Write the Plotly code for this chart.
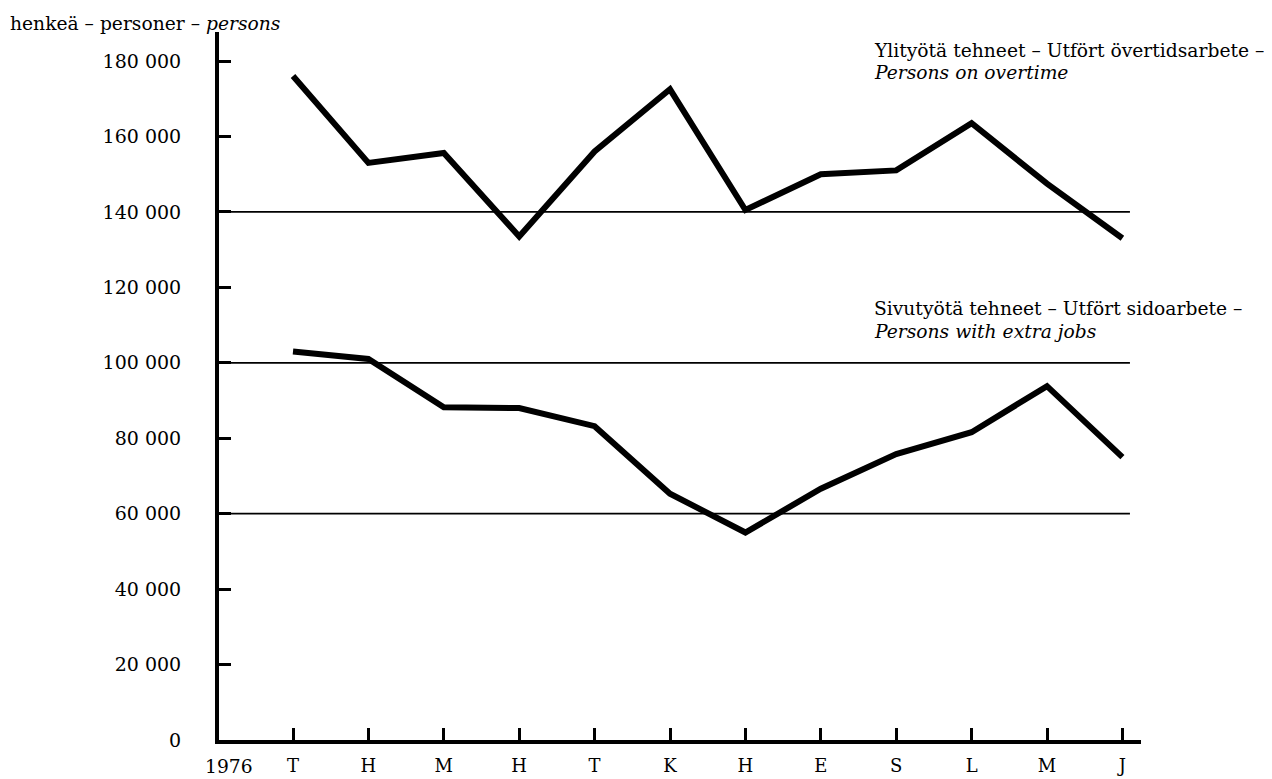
import plotly.graph_objects as go

months = ["T", "H", "M", "H", "T", "K", "H", "E", "S", "L", "M", "J"]
year_label = "1976"
overtime = [176000, 153000, 155600, 133500, 156000, 172500, 140500, 150000, 151000, 163500, 147500, 133000]
extra_jobs = [103000, 101000, 88200, 88000, 83200, 65300, 55000, 66600, 75800, 81600, 93800, 75000]
y_ticks = [0, 20000, 40000, 60000, 80000, 100000, 120000, 140000, 160000, 180000]
y_ticktext = ["0", "20 000", "40 000", "60 000", "80 000", "100 000", "120 000", "140 000", "160 000", "180 000"]
ref_lines = [60000, 100000, 140000]

FONT = "DejaVu Serif"
OFF = 8  # page body margin
W, H = 1272 - OFF, 779 - OFF
# screen-pixel geometry of the plot area (reference)
SL, SR, ST, SB = 219, 1141, 32, 740
L_PX, R_PX, T_PX, B_PX = SL - OFF, SR - OFF, ST - OFF, SB - OFF
X_SPACING = 75.4
X0_SCREEN = 293
x_lo = (SL - X0_SCREEN) / X_SPACING
x_hi = (SR - X0_SCREEN) / X_SPACING
Y_PER_20K = (740 - 61) / 9.0
y_hi = (SB - ST) / Y_PER_20K * 20000

def px(xp):
    return (xp - OFF - L_PX) / (R_PX - L_PX)

def py(yp):
    return (B_PX - (yp - OFF)) / (B_PX - T_PX)

xs = list(range(len(months)))
fig = go.Figure()
fig.add_trace(go.Scatter(x=xs, y=overtime, mode="lines",
                         line=dict(color="black", width=6), showlegend=False))
fig.add_trace(go.Scatter(x=xs, y=extra_jobs, mode="lines",
                         line=dict(color="black", width=6), showlegend=False))

for v in ref_lines:
    fig.add_shape(type="line", xref="x", yref="y", x0=x_lo, x1=11.1, y0=v, y1=v,
                  line=dict(color="black", width=1.8))

fig.update_xaxes(range=[x_lo, x_hi], tickvals=xs, ticktext=months,
                 showline=True, linecolor="black", linewidth=4,
                 ticks="inside", ticklen=12, tickwidth=3, tickcolor="black",
                 showgrid=False, zeroline=False, ticklabelstandoff=6, automargin=False,
                 tickfont=dict(family=FONT, size=18, color="black"))
fig.update_yaxes(range=[0, y_hi], tickvals=y_ticks, ticktext=y_ticktext,
                 showline=True, linecolor="black", linewidth=4,
                 ticks="inside", ticklen=12, tickwidth=3, tickcolor="black",
                 showgrid=False, zeroline=False, ticklabelstandoff=30, automargin=False,
                 tickfont=dict(family=FONT, size=19, color="black"))

ann = [
    dict(text="henkeä – personer – <i>persons</i>", x=px(8), y=py(23)),
    dict(text="Ylityötä tehneet – Utfört övertidsarbete –", x=px(872), y=py(50)),
    dict(text="<i>Persons on overtime</i>", x=px(872), y=py(72)),
    dict(text="Sivutyötä tehneet – Utfört sidoarbete –", x=px(872), y=py(308)),
    dict(text="<i>Persons with extra jobs</i>", x=px(872), y=py(331)),
    dict(text=year_label, x=px(203), y=py(767)),
]
for a in ann:
    fig.add_annotation(text=a["text"], x=a["x"], y=a["y"], xref="paper", yref="paper",
                       xanchor="left", yanchor="middle", showarrow=False,
                       font=dict(family=FONT, size=18.7, color="black"))

fig.update_layout(width=W, height=H, plot_bgcolor="white", paper_bgcolor="white",
                  margin=dict(l=L_PX, r=W - R_PX, t=T_PX, b=H - B_PX, autoexpand=False),
                  showlegend=False)
fig.write_html("out.html")
